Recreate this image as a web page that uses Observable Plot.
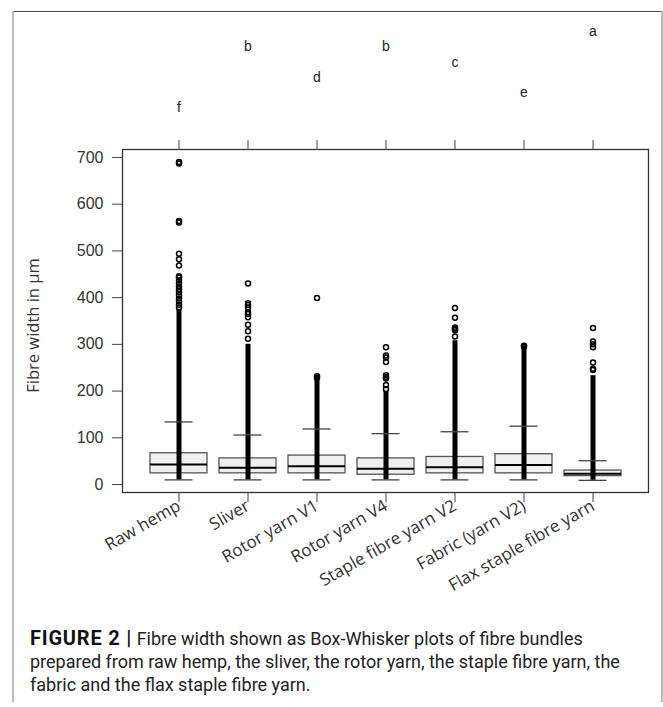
<!DOCTYPE html>
<html><head><meta charset="utf-8">
<script src="https://cdn.jsdelivr.net/npm/d3@7"></script>
<script src="https://cdn.jsdelivr.net/npm/@observablehq/plot@0.6"></script>
<style>
html,body{margin:0;padding:0;background:#fff;}
#fig{position:relative;width:663px;height:707px;overflow:hidden;background:#fff;}
#chart{position:absolute;left:0;top:0;}
.bl{position:absolute;z-index:2;}
#caption{position:absolute;left:30px;top:627px;font-family:Roboto,"Liberation Sans",sans-serif;font-size:18px;line-height:23px;color:#222;white-space:nowrap;}
#caption b{font-weight:700;color:#111;font-size:20px;letter-spacing:0.8px;}
</style></head><body>
<div id="fig">
<div id="chart"></div>
<div class="bl" style="left:13px;top:11px;width:650px;height:1px;background:#444"></div>
<div class="bl" style="left:12px;top:11px;width:2px;height:691px;background:#bbb"></div>
<div class="bl" style="left:661px;top:11px;width:2px;height:691px;background:#bbb"></div>
<div id="caption"><b>FIGURE 2 |</b> Fibre width shown as Box-Whisker plots of fibre bundles<br>prepared from raw hemp, the sliver, the rotor yarn, the staple fibre yarn, the<br>fabric and the flax staple fibre yarn.</div>
</div>
<script>
const categories = ["Raw hemp", "Sliver", "Rotor yarn V1", "Rotor yarn V4", "Staple fibre yarn V2", "Fabric (yarn V2)", "Flax staple fibre yarn"];
const groupLetters = ["f", "b", "d", "b", "c", "e", "a"];
const whiskerLow  = [10, 10, 10, 10, 10, 10, 9];
const q1          = [24, 24, 24, 21, 24, 24, 18];
const median      = [43, 36, 39, 34, 37, 42, 23];
const q3          = [67, 56, 62, 56, 59, 65, 30];
const whiskerHigh = [134, 106, 119, 109, 113, 125, 51];
// top of the solid run of overlapping outlier circles
const denseTop    = [375, 300, 234, 200, 308, 297, 233];
const outliersRawHemp = [690, 687, 564, 561, 494, 482, 469, 446, 443, 437, 430, 424, 418, 412, 405, 398, 392, 385, 379];
const outliersSliver = [430, 388, 384, 379, 369, 365, 358, 342, 328, 312];
const outliersRotorV1 = [399, 232, 228];
const outliersRotorV4 = [294, 276, 272, 262, 234, 230, 227, 213, 204];
const outliersStapleV2 = [378, 357, 336, 333, 330, 317];
const outliersFabric = [297, 295];
const outliersFlax = [335, 306, 300, 294, 261, 248, 245];
const yTicks = [0, 100, 200, 300, 400, 500, 600, 700];
const yTitle = "Fibre width in µm";

const outlierLists = [outliersRawHemp, outliersSliver, outliersRotorV1, outliersRotorV4, outliersStapleV2, outliersFabric, outliersFlax];
const boxes = categories.map((c, i) => ({
  cat: c, lo: whiskerLow[i], q1: q1[i], med: median[i], q3: q3[i],
  hi: whiskerHigh[i], dense: denseTop[i], letter: groupLetters[i]
}));
const points = outlierLists.flatMap((arr, i) => arr.map(v => ({cat: categories[i], v})));
const letterOrder = "abcdef";
// significance letters sit above the panel, earlier letters higher
const letterY = l => 806 + (5 - letterOrder.indexOf(l)) * 32.6;

const chart = Plot.plot({
  width: 663, height: 620,
  marginLeft: 122, marginRight: 15, marginTop: 149, marginBottom: 128,
  style: {background: "transparent", overflow: "visible", color: "#333", fontFamily: "'Liberation Sans', Arial, sans-serif"},
  x: {domain: categories, paddingInner: 0.18, paddingOuter: 0.37, label: null},
  y: {domain: [-17, 717], label: null},
  marks: [
    Plot.barY(boxes, {x: "cat", y1: "q1", y2: "q3", fill: "#f0f0f0", stroke: "#555", strokeWidth: 1.3}),
    Plot.ruleX(boxes, {x: "cat", y1: "lo", y2: "dense", stroke: "#000", strokeWidth: 5}),
    Plot.tickY(boxes, {x: "cat", y: "hi", stroke: "#444", strokeWidth: 1.3, inset: 14.5}),
    Plot.tickY(boxes, {x: "cat", y: "lo", stroke: "#444", strokeWidth: 1.3, inset: 14.5}),
    Plot.tickY(boxes, {x: "cat", y: "med", stroke: "#000", strokeWidth: 2}),
    Plot.dot(points, {x: "cat", y: "v", r: 2.5, stroke: "#000", strokeWidth: 1.5, fill: "none"}),
    Plot.text(boxes, {x: "cat", y: d => letterY(d.letter), text: "letter", fontSize: 14, fill: "#222"}),
    Plot.frame({stroke: "#333", strokeWidth: 1.3}),
    Plot.axisX({anchor: "top", tickSize: 10, tickFormat: () => "", label: null, stroke: "#444"}),
    Plot.axisX({anchor: "bottom", tickSize: 10, tickRotate: -30, tickPadding: 2, label: null, stroke: "#444",
      fontSize: 17, fontFamily: "'Open Sans', sans-serif", fill: "#333"}),
    Plot.axisY({ticks: yTicks, tickSize: 10, tickPadding: 9, fontSize: 16, stroke: "#444", fill: "#333", label: null}),
    Plot.text([yTitle], {frameAnchor: "left", text: d => d, rotate: -90, dx: -89, dy: 4.5,
      textAnchor: "middle", lineAnchor: "middle",
      fontSize: 16.5, fontFamily: "'Open Sans', sans-serif", fill: "#333"})
  ]
});
document.getElementById("chart").appendChild(chart);
</script>
</body></html>
